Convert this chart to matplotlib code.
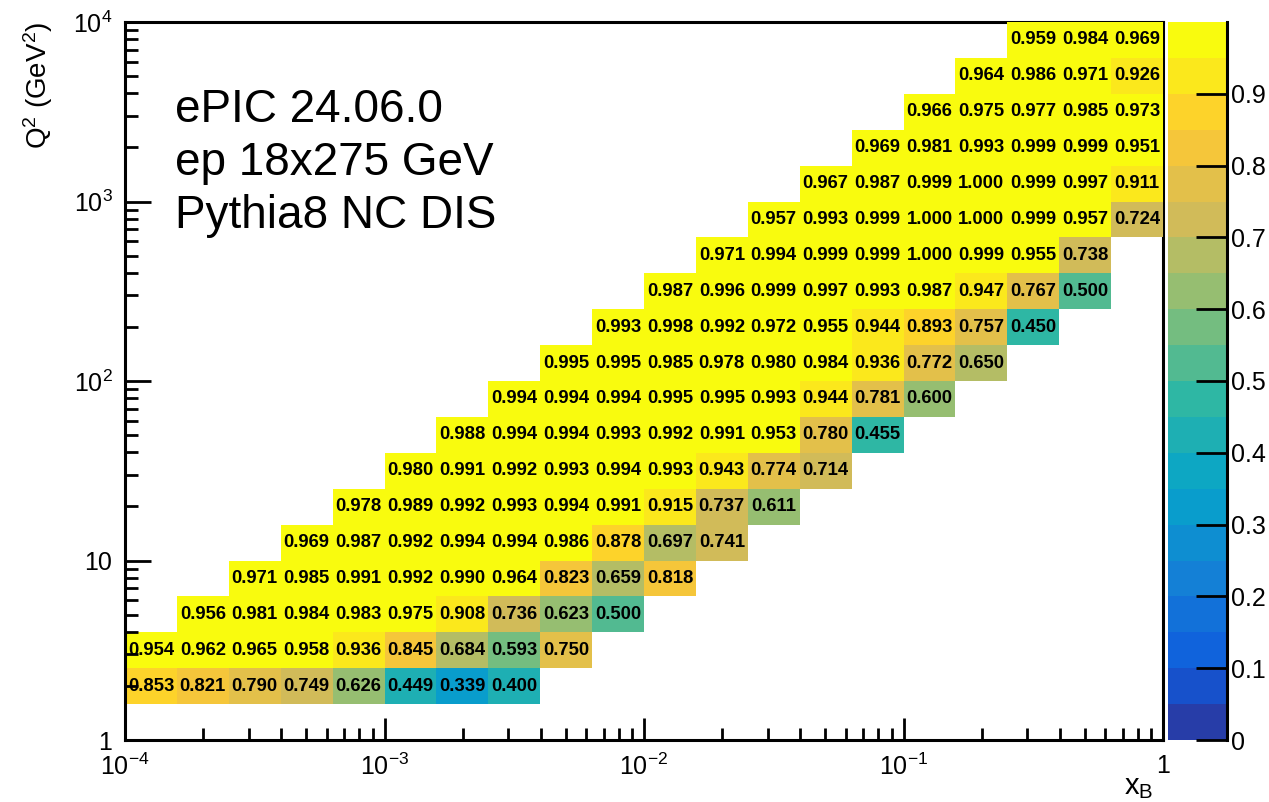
"""
Efficiency map in (x_B, Q^2) bins, ROOT-style with bin contents printed.
"""

import numpy as np
import matplotlib

matplotlib.use("Agg")
import matplotlib.pyplot as plt
from matplotlib.colors import LinearSegmentedColormap, ListedColormap, Normalize
from matplotlib.ticker import NullFormatter

plt.rcParams["font.family"] = ["Liberation Sans", "DejaVu Sans"]
plt.rcParams["mathtext.fontset"] = "custom"
plt.rcParams["mathtext.rm"] = "Liberation Sans"
plt.rcParams["mathtext.it"] = "Liberation Sans:italic"
plt.rcParams["mathtext.bf"] = "Liberation Sans:bold"

# binning: 5 log bins per decade
x_edges = np.logspace(-4, 0, 21)
q2_edges = np.logspace(0, 4, 21)

# Q2 bins 1..19 (bin 0 empty); first filled x bin of each row
first_xbin = [0, 0, 1, 2, 3, 4, 5, 6, 7, 8, 9, 10, 11, 12, 13, 14, 15, 16, 17]
eff_rows = [
    [0.853, 0.821, 0.790, 0.749, 0.626, 0.449, 0.339, 0.400],
    [0.954, 0.962, 0.965, 0.958, 0.936, 0.845, 0.684, 0.593, 0.750],
    [0.956, 0.981, 0.984, 0.983, 0.975, 0.908, 0.736, 0.623, 0.500],
    [0.971, 0.985, 0.991, 0.992, 0.990, 0.964, 0.823, 0.659, 0.818],
    [0.969, 0.987, 0.992, 0.994, 0.994, 0.986, 0.878, 0.697, 0.741],
    [0.978, 0.989, 0.992, 0.993, 0.994, 0.991, 0.915, 0.737, 0.611],
    [0.980, 0.991, 0.992, 0.993, 0.994, 0.993, 0.943, 0.774, 0.714],
    [0.988, 0.994, 0.994, 0.993, 0.992, 0.991, 0.953, 0.780, 0.455],
    [0.994, 0.994, 0.994, 0.995, 0.995, 0.993, 0.944, 0.781, 0.600],
    [0.995, 0.995, 0.985, 0.978, 0.980, 0.984, 0.936, 0.772, 0.650],
    [0.993, 0.998, 0.992, 0.972, 0.955, 0.944, 0.893, 0.757, 0.450],
    [0.987, 0.996, 0.999, 0.997, 0.993, 0.987, 0.947, 0.767, 0.500],
    [0.971, 0.994, 0.999, 0.999, 1.000, 0.999, 0.955, 0.738],
    [0.957, 0.993, 0.999, 1.000, 1.000, 0.999, 0.957, 0.724],
    [0.967, 0.987, 0.999, 1.000, 0.999, 0.997, 0.911],
    [0.969, 0.981, 0.993, 0.999, 0.999, 0.951],
    [0.966, 0.975, 0.977, 0.985, 0.973],
    [0.964, 0.986, 0.971, 0.926],
    [0.959, 0.984, 0.969],
]

x_ticks = [1e-4, 1e-3, 1e-2, 1e-1, 1]
x_ticklabels = [r"$10^{-4}$", r"$10^{-3}$", r"$10^{-2}$", r"$10^{-1}$", "1"]
q2_ticks = [1, 10, 100, 1e3, 1e4]
q2_ticklabels = ["1", "10", r"$10^{2}$", r"$10^{3}$", r"$10^{4}$"]
cbar_ticks = [0, 0.1, 0.2, 0.3, 0.4, 0.5, 0.6, 0.7, 0.8, 0.9]
info_lines = ["ePIC 24.06.0", "ep 18x275 GeV", "Pythia8 NC DIS"]

# ROOT kBird palette, 20 contours
bird_r = [0.2082, 0.0592, 0.0780, 0.0232, 0.1802, 0.5301, 0.8186, 0.9956, 0.9764]
bird_g = [0.1664, 0.3599, 0.5041, 0.6419, 0.7178, 0.7492, 0.7328, 0.7862, 0.9832]
bird_b = [0.5293, 0.8684, 0.8385, 0.7914, 0.6425, 0.4662, 0.3499, 0.1968, 0.0539]
stops = np.linspace(0, 1, 9)
bird = LinearSegmentedColormap.from_list(
    "bird", list(zip(stops, zip(bird_r, bird_g, bird_b))), N=255
)
ncont = 20
cmap = ListedColormap([bird(int((i + 0.99) * 255 / ncont)) for i in range(ncont)])
norm = Normalize(vmin=0, vmax=1)

# fill the 2D histogram
eff = np.full((len(q2_edges) - 1, len(x_edges) - 1), np.nan)
for i, (start, vals) in enumerate(zip(first_xbin, eff_rows)):
    eff[i + 1, start:start + len(vals)] = vals
eff = np.ma.masked_invalid(eff)

fig = plt.figure(figsize=(12.69, 8.02), dpi=100)
ax = fig.add_axes([125 / 1269, 62 / 802, 1038 / 1269, 718 / 802])
cax = fig.add_axes([1168 / 1269, 62 / 802, 59 / 1269, 718 / 802])

ax.set_xscale("log")
ax.set_yscale("log")
mesh = ax.pcolormesh(x_edges, q2_edges, eff, cmap=cmap, norm=norm, zorder=1)
ax.set_xlim(x_edges[0], x_edges[-1])
ax.set_ylim(q2_edges[0], q2_edges[-1])

# bin contents
for i in range(eff.shape[0]):
    for j in range(eff.shape[1]):
        if eff.mask[i, j]:
            continue
        xc = np.sqrt(x_edges[j] * x_edges[j + 1])
        yc = np.sqrt(q2_edges[i] * q2_edges[i + 1])
        ax.text(xc, yc, f"{eff[i, j]:.3f}", ha="center", va="center",
                fontsize=13.3, fontweight="bold", color="black", zorder=3)

ax.set_xticks(x_ticks, x_ticklabels)
ax.set_yticks(q2_ticks, q2_ticklabels)
ax.xaxis.set_minor_formatter(NullFormatter())
ax.yaxis.set_minor_formatter(NullFormatter())
ax.tick_params(axis="x", which="major", direction="in", length=16, width=2,
               labelsize=18, pad=10, top=False)
ax.tick_params(axis="x", which="minor", direction="in", length=8.5, width=2, top=False)
ax.tick_params(axis="y", which="major", direction="in", length=19, width=2,
               labelsize=18, pad=9, right=False)
ax.tick_params(axis="y", which="minor", direction="in", length=9, width=2, right=False)
for side in ["left", "bottom", "top", "right"]:
    ax.spines[side].set_linewidth(2.2)
ax.spines["top"].set_zorder(0.5)
ax.spines["right"].set_zorder(0.5)

# axis titles
fig.text(38 / 1269, 1 - 22 / 802, r"Q$^{2}$ (GeV$^{2}$)", rotation=90,
         ha="center", va="top", fontsize=20)
fig.text(1153 / 1269, 1 - 794 / 802, r"x$_{\mathrm{B}}$", ha="right",
         va="baseline", fontsize=21)

# info text
for k, line in enumerate(info_lines):
    ax.text(175 / 1269, 1 - (122 + 53 * k) / 802, line, transform=fig.transFigure,
            ha="left", va="baseline", fontsize=33)

# colour bar
cb = fig.colorbar(mesh, cax=cax, ticks=cbar_ticks)
cb.outline.set_visible(False)
cb.minorticks_off()
cb.set_ticklabels([f"{t:g}" for t in cbar_ticks])
cax.spines["right"].set_visible(True)
cax.spines["right"].set_linewidth(2.2)
cax.tick_params(axis="y", direction="in", length=22, width=2, labelsize=18,
                pad=3, right=True, left=False)

fig.savefig("out.png", dpi=100)
plt.close(fig)
